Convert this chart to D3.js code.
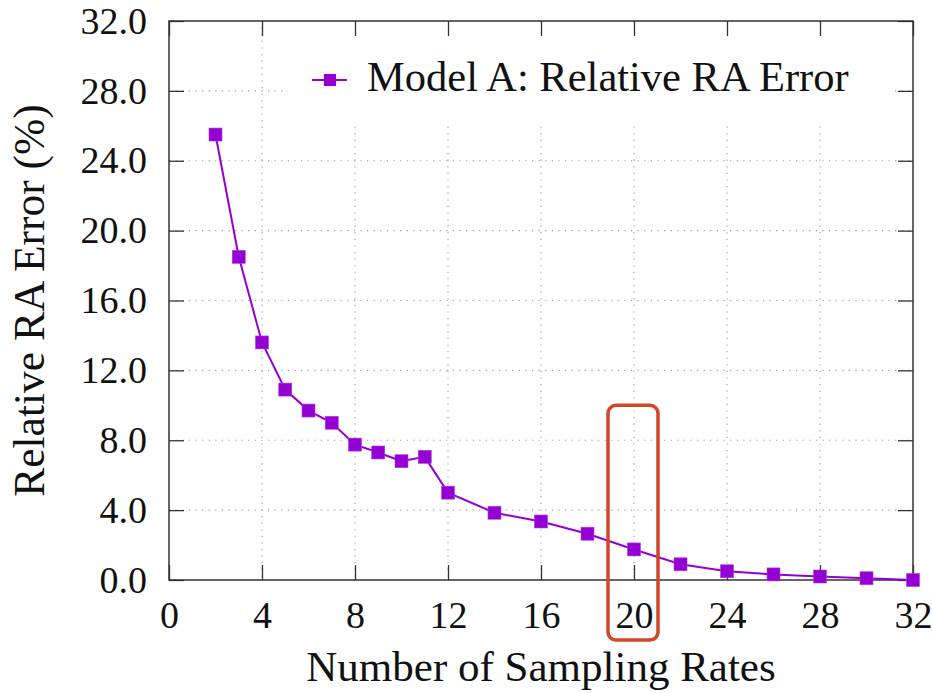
<!DOCTYPE html>
<html>
<head lang="en">
    <meta charset="UTF-8">
    <title>Relative RA Error</title>
    <script src="https://d3js.org/d3.v7.min.js"></script>
</head>
<body style="margin:0;background:#fff">
<svg id="chart" width="932" height="693"></svg>
<style>
    text { font-family: "Liberation Serif", "DejaVu Serif", serif; fill: #111; }
    .axis path { display: none; }
    .axis line { stroke: #333; stroke-width: 1.3; }
    .grid line { stroke: #999; stroke-width: 1.1; stroke-dasharray: 1.2,5.4; }
</style>
<script>
    // data
    const SAMPLING = [2, 3, 4, 5, 6, 7, 8, 9, 10, 11, 12, 14, 16, 18, 20, 22, 24, 26, 28, 30, 32];
    const ERROR_PCT = [25.5, 18.5, 13.6, 10.9, 9.7, 9.0, 7.75, 7.3, 6.8, 7.05, 5.0, 3.85, 3.35, 2.65, 1.75, 0.9, 0.5, 0.32, 0.2, 0.1, 0.0];
    const X_TICKS = [0, 4, 8, 12, 16, 20, 24, 28, 32];
    const Y_TICKS = [0, 4, 8, 12, 16, 20, 24, 28, 32];
    const HIGHLIGHT_X = 20;
    const SERIES_NAME = 'Model A: Relative RA Error';

    const COLOR = '#9400d3';

    let svg = d3.select('#chart');
    let margins = {top: 21, right: 19, bottom: 113, left: 169};
    let width = 932 - margins.left - margins.right,
        height = 693 - margins.top - margins.bottom;

    let x = d3.scaleLinear().domain([0, 32]).range([0, width]);
    let y = d3.scaleLinear().domain([0, 32]).range([height, 0]);

    let g = svg.append('g').attr('transform', `translate(${margins.left},${margins.top})`);

    // grid
    g.append('g').attr('class', 'grid')
        .selectAll('line.v').data(X_TICKS.slice(1, -1)).enter().append('line')
        .attr('x1', d => x(d)).attr('x2', d => x(d)).attr('y1', 0).attr('y2', height);
    g.append('g').attr('class', 'grid')
        .selectAll('line.h').data(Y_TICKS.slice(1, -1)).enter().append('line')
        .attr('x1', 0).attr('x2', width).attr('y1', d => y(d)).attr('y2', d => y(d));

    // legend background hides the grid
    g.append('rect').attr('x', 119).attr('y', 1).attr('width', 605).attr('height', 104).attr('fill', '#fff');

    // axes, ticks drawn inward
    g.append('g').attr('class', 'axis').attr('transform', `translate(0,${height})`)
        .call(d3.axisBottom(x).tickValues(X_TICKS).tickSizeInner(-15).tickSizeOuter(0).tickPadding(21))
        .selectAll('text').style('font-size', '38px');
    g.append('g').attr('class', 'axis')
        .call(d3.axisTop(x).tickValues(X_TICKS).tickSizeInner(-15).tickSizeOuter(0).tickFormat(''));
    g.append('g').attr('class', 'axis')
        .call(d3.axisLeft(y).tickValues(Y_TICKS).tickSizeInner(-15).tickSizeOuter(0).tickPadding(22).tickFormat(d3.format('.1f')))
        .selectAll('text').style('font-size', '38px');
    g.append('g').attr('class', 'axis').attr('transform', `translate(${width},0)`)
        .call(d3.axisRight(y).tickValues(Y_TICKS).tickSizeInner(-15).tickSizeOuter(0).tickFormat(''));
    svg.selectAll('.axis').attr('font-family', null);
    svg.selectAll('.axis text').attr('fill', '#111');

    // frame
    g.append('rect').attr('width', width).attr('height', height)
        .attr('fill', 'none').attr('stroke', '#333').attr('stroke-width', 1.5);

    // series
    let pts = SAMPLING.map((s, i) => [s, ERROR_PCT[i]]);
    g.append('path').datum(pts)
        .attr('fill', 'none').attr('stroke', COLOR).attr('stroke-width', 2)
        .attr('d', d3.line().x(d => x(d[0])).y(d => y(d[1])));
    g.selectAll('.mark').data(pts).enter().append('rect')
        .attr('class', 'mark')
        .attr('x', d => x(d[0]) - 6.5).attr('y', d => y(d[1]) - 6.5)
        .attr('width', 13).attr('height', 13)
        .attr('fill', COLOR).attr('stroke', '#b040e0').attr('stroke-width', 0.6);

    // legend
    let lg = g.append('g').attr('transform', 'translate(143,59)');
    lg.append('line').attr('x1', 0).attr('x2', 35).attr('stroke', COLOR).attr('stroke-width', 2);
    lg.append('rect').attr('x', 12).attr('y', -6).attr('width', 12).attr('height', 12).attr('fill', COLOR);
    lg.append('text').attr('x', 55).attr('y', 11).style('font-size', '42.5px').text(SERIES_NAME);

    // highlight box around x = 20
    g.append('rect')
        .attr('x', x(HIGHLIGHT_X) - 26).attr('y', y(10))
        .attr('width', 50).attr('height', height + 60 - y(10))
        .attr('rx', 8).attr('ry', 8)
        .attr('fill', 'none').attr('stroke', '#d0472a').attr('stroke-width', 3.5);

    // axis titles
    svg.append('text').attr('x', margins.left + width / 2).attr('y', 681)
        .attr('text-anchor', 'middle').style('font-size', '43px').text('Number of Sampling Rates');
    svg.append('text').attr('transform', `translate(44,${margins.top + height / 2}) rotate(-90)`)
        .attr('text-anchor', 'middle').style('font-size', '43.5px').text('Relative RA Error (%)');
</script>
</body>
</html>
